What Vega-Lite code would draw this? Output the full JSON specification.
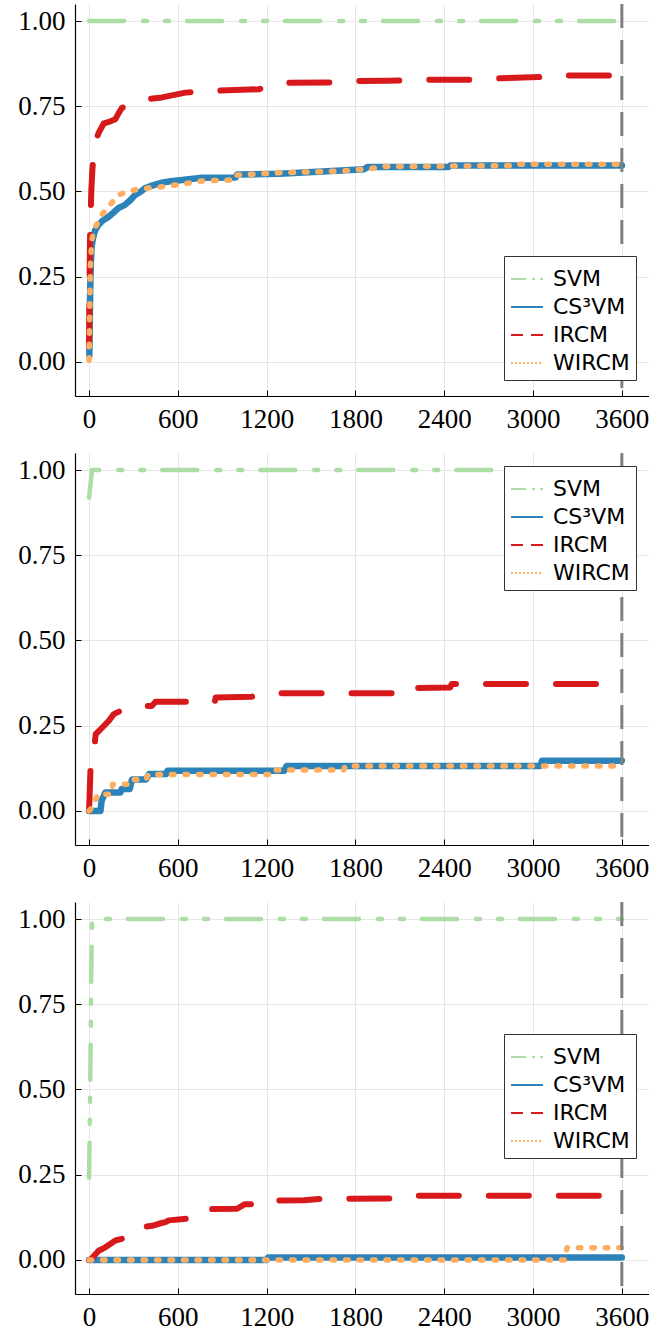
{
  "$schema": "https://vega.github.io/schema/vega-lite/v6.json",
  "padding": {"left": 17, "top": 2, "right": 0, "bottom": 0},
  "autosize": {"type": "pad"},
  "spacing": 57,
  "bounds": "flush",
  "background": "white",
  "config": {
    "view": {"stroke": null},
    "axis": {
      "labelFont": "Liberation Serif", "labelFontSize": 27, "labelColor": "black",
      "domainColor": "black", "domainWidth": 1.2, "tickColor": "black", "tickSize": -6, "tickWidth": 1,
      "gridColor": "#e6e6e6", "gridWidth": 1, "title": null, "labelFlush": false, "labelOverlap": false
    },
    "legend": {
      "orient": "none", "title": " ", "titleFontSize": 8, "titlePadding": 0, "labelFont": "DejaVu Sans", "labelFontSize": 22, "labelColor": "black",
      "symbolType": "stroke", "symbolSize": 1024, "labelOffset": 9, "rowPadding": 0,
      "padding": 6, "strokeColor": "#333333", "fillColor": "white", "labelLimit": 300,
      "symbolStrokeWidth": 2, "symbolOpacity": 1
    }
  },
  "datasets": {
    "p1": [
      {"method": "SVM", "t": 0, "v": 1.0}, {"method": "SVM", "t": 3600, "v": 1.0},
      {"method": "CS³VM", "t": 2, "v": 0.02}, {"method": "CS³VM", "t": 5, "v": 0.13}, {"method": "CS³VM", "t": 8, "v": 0.22}, {"method": "CS³VM", "t": 12, "v": 0.29}, {"method": "CS³VM", "t": 18, "v": 0.34}, {"method": "CS³VM", "t": 25, "v": 0.36}, {"method": "CS³VM", "t": 40, "v": 0.385}, {"method": "CS³VM", "t": 60, "v": 0.4}, {"method": "CS³VM", "t": 88, "v": 0.413}, {"method": "CS³VM", "t": 130, "v": 0.425}, {"method": "CS³VM", "t": 170, "v": 0.44}, {"method": "CS³VM", "t": 200, "v": 0.452}, {"method": "CS³VM", "t": 240, "v": 0.46}, {"method": "CS³VM", "t": 280, "v": 0.475}, {"method": "CS³VM", "t": 312, "v": 0.49}, {"method": "CS³VM", "t": 350, "v": 0.5}, {"method": "CS³VM", "t": 380, "v": 0.51}, {"method": "CS³VM", "t": 430, "v": 0.518}, {"method": "CS³VM", "t": 493, "v": 0.526}, {"method": "CS³VM", "t": 550, "v": 0.53}, {"method": "CS³VM", "t": 600, "v": 0.532}, {"method": "CS³VM", "t": 763, "v": 0.54}, {"method": "CS³VM", "t": 990, "v": 0.541}, {"method": "CS³VM", "t": 1000, "v": 0.55}, {"method": "CS³VM", "t": 1290, "v": 0.552}, {"method": "CS³VM", "t": 1860, "v": 0.565}, {"method": "CS³VM", "t": 1880, "v": 0.572}, {"method": "CS³VM", "t": 2430, "v": 0.572}, {"method": "CS³VM", "t": 2440, "v": 0.576}, {"method": "CS³VM", "t": 3600, "v": 0.576},
      {"method": "IRCM", "t": 0, "v": 0.05}, {"method": "IRCM", "t": 3, "v": 0.2}, {"method": "IRCM", "t": 6, "v": 0.35}, {"method": "IRCM", "t": 10, "v": 0.42}, {"method": "IRCM", "t": 15, "v": 0.5}, {"method": "IRCM", "t": 22, "v": 0.56}, {"method": "IRCM", "t": 30, "v": 0.61}, {"method": "IRCM", "t": 45, "v": 0.65}, {"method": "IRCM", "t": 65, "v": 0.672}, {"method": "IRCM", "t": 100, "v": 0.7}, {"method": "IRCM", "t": 140, "v": 0.705}, {"method": "IRCM", "t": 178, "v": 0.712}, {"method": "IRCM", "t": 200, "v": 0.73}, {"method": "IRCM", "t": 223, "v": 0.746}, {"method": "IRCM", "t": 260, "v": 0.747}, {"method": "IRCM", "t": 330, "v": 0.76}, {"method": "IRCM", "t": 380, "v": 0.77}, {"method": "IRCM", "t": 493, "v": 0.776}, {"method": "IRCM", "t": 651, "v": 0.79}, {"method": "IRCM", "t": 830, "v": 0.795}, {"method": "IRCM", "t": 1150, "v": 0.8}, {"method": "IRCM", "t": 1200, "v": 0.81}, {"method": "IRCM", "t": 1324, "v": 0.819}, {"method": "IRCM", "t": 1628, "v": 0.82}, {"method": "IRCM", "t": 1716, "v": 0.824}, {"method": "IRCM", "t": 2020, "v": 0.825}, {"method": "IRCM", "t": 2270, "v": 0.828}, {"method": "IRCM", "t": 2600, "v": 0.828}, {"method": "IRCM", "t": 2770, "v": 0.832}, {"method": "IRCM", "t": 3080, "v": 0.836}, {"method": "IRCM", "t": 3100, "v": 0.84}, {"method": "IRCM", "t": 3600, "v": 0.84},
      {"method": "WIRCM", "t": 0, "v": 0.005}, {"method": "WIRCM", "t": 3, "v": 0.1}, {"method": "WIRCM", "t": 6, "v": 0.2}, {"method": "WIRCM", "t": 10, "v": 0.3}, {"method": "WIRCM", "t": 20, "v": 0.36}, {"method": "WIRCM", "t": 31, "v": 0.385}, {"method": "WIRCM", "t": 60, "v": 0.41}, {"method": "WIRCM", "t": 88, "v": 0.433}, {"method": "WIRCM", "t": 150, "v": 0.465}, {"method": "WIRCM", "t": 200, "v": 0.49}, {"method": "WIRCM", "t": 250, "v": 0.498}, {"method": "WIRCM", "t": 312, "v": 0.505}, {"method": "WIRCM", "t": 400, "v": 0.51}, {"method": "WIRCM", "t": 538, "v": 0.516}, {"method": "WIRCM", "t": 650, "v": 0.523}, {"method": "WIRCM", "t": 763, "v": 0.531}, {"method": "WIRCM", "t": 990, "v": 0.534}, {"method": "WIRCM", "t": 1000, "v": 0.548}, {"method": "WIRCM", "t": 1290, "v": 0.555}, {"method": "WIRCM", "t": 1700, "v": 0.56}, {"method": "WIRCM", "t": 1900, "v": 0.567}, {"method": "WIRCM", "t": 2000, "v": 0.573}, {"method": "WIRCM", "t": 2880, "v": 0.576}, {"method": "WIRCM", "t": 2900, "v": 0.58}, {"method": "WIRCM", "t": 3600, "v": 0.58}
    ],
    "p2": [
      {"method": "SVM", "t": 0, "v": 0.919}, {"method": "SVM", "t": 10, "v": 0.96}, {"method": "SVM", "t": 20, "v": 1.0}, {"method": "SVM", "t": 3600, "v": 1.0},
      {"method": "CS³VM", "t": 0, "v": 0}, {"method": "CS³VM", "t": 77, "v": 0}, {"method": "CS³VM", "t": 85, "v": 0.03}, {"method": "CS³VM", "t": 110, "v": 0.054}, {"method": "CS³VM", "t": 212, "v": 0.054}, {"method": "CS³VM", "t": 220, "v": 0.064}, {"method": "CS³VM", "t": 275, "v": 0.064}, {"method": "CS³VM", "t": 290, "v": 0.092}, {"method": "CS³VM", "t": 385, "v": 0.092}, {"method": "CS³VM", "t": 405, "v": 0.108}, {"method": "CS³VM", "t": 520, "v": 0.108}, {"method": "CS³VM", "t": 530, "v": 0.118}, {"method": "CS³VM", "t": 1320, "v": 0.118}, {"method": "CS³VM", "t": 1335, "v": 0.132}, {"method": "CS³VM", "t": 3050, "v": 0.132}, {"method": "CS³VM", "t": 3060, "v": 0.147}, {"method": "CS³VM", "t": 3600, "v": 0.147},
      {"method": "IRCM", "t": 0, "v": 0}, {"method": "IRCM", "t": 5, "v": 0.06}, {"method": "IRCM", "t": 10, "v": 0.127}, {"method": "IRCM", "t": 20, "v": 0.15}, {"method": "IRCM", "t": 38, "v": 0.196}, {"method": "IRCM", "t": 45, "v": 0.225}, {"method": "IRCM", "t": 88, "v": 0.244}, {"method": "IRCM", "t": 133, "v": 0.264}, {"method": "IRCM", "t": 167, "v": 0.284}, {"method": "IRCM", "t": 220, "v": 0.295}, {"method": "IRCM", "t": 290, "v": 0.308}, {"method": "IRCM", "t": 425, "v": 0.308}, {"method": "IRCM", "t": 448, "v": 0.32}, {"method": "IRCM", "t": 850, "v": 0.32}, {"method": "IRCM", "t": 855, "v": 0.333}, {"method": "IRCM", "t": 1100, "v": 0.335}, {"method": "IRCM", "t": 1170, "v": 0.345}, {"method": "IRCM", "t": 2100, "v": 0.345}, {"method": "IRCM", "t": 2115, "v": 0.36}, {"method": "IRCM", "t": 2440, "v": 0.362}, {"method": "IRCM", "t": 2450, "v": 0.372}, {"method": "IRCM", "t": 3500, "v": 0.372}, {"method": "IRCM", "t": 3510, "v": 0.386}, {"method": "IRCM", "t": 3600, "v": 0.386},
      {"method": "WIRCM", "t": 0, "v": 0}, {"method": "WIRCM", "t": 20, "v": 0.01}, {"method": "WIRCM", "t": 40, "v": 0.03}, {"method": "WIRCM", "t": 60, "v": 0.049}, {"method": "WIRCM", "t": 150, "v": 0.049}, {"method": "WIRCM", "t": 160, "v": 0.078}, {"method": "WIRCM", "t": 290, "v": 0.078}, {"method": "WIRCM", "t": 300, "v": 0.092}, {"method": "WIRCM", "t": 385, "v": 0.092}, {"method": "WIRCM", "t": 400, "v": 0.107}, {"method": "WIRCM", "t": 1250, "v": 0.107}, {"method": "WIRCM", "t": 1260, "v": 0.12}, {"method": "WIRCM", "t": 1720, "v": 0.12}, {"method": "WIRCM", "t": 1730, "v": 0.132}, {"method": "WIRCM", "t": 3600, "v": 0.132}
    ],
    "p3": [
      {"method": "SVM", "t": 0, "v": 0.241}, {"method": "SVM", "t": 5, "v": 0.4}, {"method": "SVM", "t": 10, "v": 0.6}, {"method": "SVM", "t": 15, "v": 0.85}, {"method": "SVM", "t": 20, "v": 0.985}, {"method": "SVM", "t": 25, "v": 1.0}, {"method": "SVM", "t": 3600, "v": 1.0},
      {"method": "CS³VM", "t": 0, "v": 0}, {"method": "CS³VM", "t": 1200, "v": 0}, {"method": "CS³VM", "t": 1210, "v": 0.007}, {"method": "CS³VM", "t": 3600, "v": 0.007},
      {"method": "IRCM", "t": 0, "v": 0}, {"method": "IRCM", "t": 10, "v": 0}, {"method": "IRCM", "t": 40, "v": 0.015}, {"method": "IRCM", "t": 65, "v": 0.027}, {"method": "IRCM", "t": 110, "v": 0.037}, {"method": "IRCM", "t": 178, "v": 0.057}, {"method": "IRCM", "t": 250, "v": 0.065}, {"method": "IRCM", "t": 324, "v": 0.072}, {"method": "IRCM", "t": 358, "v": 0.096}, {"method": "IRCM", "t": 426, "v": 0.1}, {"method": "IRCM", "t": 471, "v": 0.106}, {"method": "IRCM", "t": 516, "v": 0.111}, {"method": "IRCM", "t": 538, "v": 0.116}, {"method": "IRCM", "t": 640, "v": 0.12}, {"method": "IRCM", "t": 763, "v": 0.124}, {"method": "IRCM", "t": 790, "v": 0.14}, {"method": "IRCM", "t": 831, "v": 0.149}, {"method": "IRCM", "t": 1000, "v": 0.15}, {"method": "IRCM", "t": 1050, "v": 0.163}, {"method": "IRCM", "t": 1200, "v": 0.165}, {"method": "IRCM", "t": 1215, "v": 0.174}, {"method": "IRCM", "t": 1450, "v": 0.175}, {"method": "IRCM", "t": 1570, "v": 0.179}, {"method": "IRCM", "t": 2050, "v": 0.18}, {"method": "IRCM", "t": 2100, "v": 0.188}, {"method": "IRCM", "t": 3500, "v": 0.188}, {"method": "IRCM", "t": 3530, "v": 0.195}, {"method": "IRCM", "t": 3600, "v": 0.195},
      {"method": "WIRCM", "t": 0, "v": 0}, {"method": "WIRCM", "t": 3215, "v": 0}, {"method": "WIRCM", "t": 3230, "v": 0.036}, {"method": "WIRCM", "t": 3600, "v": 0.036}
    ]
  },
  "vconcat": [
    {
      "width": 576, "height": 392,
      "encoding": {
        "x": {"field": "t", "type": "quantitative", "scale": {"domain": [-95, 3797], "nice": false, "zero": false}, "axis": {"values": [0, 600, 1200, 1800, 2400, 3000, 3600], "format": "d", "labelPadding": 16}},
        "y": {"field": "v", "type": "quantitative", "scale": {"domain": [-0.1, 1.05], "nice": false, "zero": false}, "axis": {"values": [0, 0.25, 0.5, 0.75, 1], "format": ".2f", "labelPadding": 16}}
      },
      "layer": [
        {"data": {"name": "p1"}, "transform": [{"filter": "false"}], "mark": {"type": "line", "strokeWidth": 2, "strokeCap": "butt"},
         "encoding": {
           "color": {"field": "method", "type": "nominal", "scale": {"domain": ["SVM", "CS³VM", "IRCM", "WIRCM"], "range": ["#abdda4", "#2b83ba", "#d7191c", "#fdae61"]}, "legend": {"legendX": 429, "legendY": 252}},
           "strokeDash": {"field": "method", "type": "nominal", "scale": {"domain": ["SVM", "CS³VM", "IRCM", "WIRCM"], "range": [[15, 6, 3, 5, 3, 5], [1, 0], [12, 8], [2, 2]]}}
         }},
        {"data": {"name": "p1"}, "transform": [{"filter": "datum.method == 'SVM'"}], "mark": {"type": "line", "color": "#abdda4", "strokeWidth": 4.5, "strokeCap": "round", "strokeJoin": "round", "strokeDash": [35, 19, 4, 18, 4, 18]}},
        {"data": {"name": "p1"}, "transform": [{"filter": "datum.method == 'CS³VM'"}], "mark": {"type": "line", "color": "#2b83ba", "strokeWidth": 6.5, "strokeCap": "round", "strokeJoin": "round"}},
        {"data": {"name": "p1"}, "transform": [{"filter": "datum.method == 'IRCM'"}], "mark": {"type": "line", "color": "#d7191c", "strokeWidth": 6, "strokeCap": "round", "strokeJoin": "round", "strokeDash": [40, 30]}},
        {"data": {"name": "p1"}, "transform": [{"filter": "datum.method == 'WIRCM'"}], "mark": {"type": "line", "color": "#fdae61", "strokeWidth": 5.5, "strokeCap": "round", "strokeJoin": "round", "strokeDash": [2.5, 11]}},
        {"data": {"values": [{"t": 3600}]}, "mark": {"type": "rule", "color": "#808080", "strokeWidth": 3, "strokeDash": [24, 12]}, "encoding": {"x": {"field": "t", "type": "quantitative"}, "y": null}}
      ]
    },
    {
      "width": 576, "height": 392,
      "encoding": {
        "x": {"field": "t", "type": "quantitative", "scale": {"domain": [-95, 3797], "nice": false, "zero": false}, "axis": {"values": [0, 600, 1200, 1800, 2400, 3000, 3600], "format": "d", "labelPadding": 16}},
        "y": {"field": "v", "type": "quantitative", "scale": {"domain": [-0.1, 1.05], "nice": false, "zero": false}, "axis": {"values": [0, 0.25, 0.5, 0.75, 1], "format": ".2f", "labelPadding": 16}}
      },
      "layer": [
        {"data": {"name": "p2"}, "transform": [{"filter": "false"}], "mark": {"type": "line", "strokeWidth": 2, "strokeCap": "butt"},
         "encoding": {
           "color": {"field": "method", "type": "nominal", "scale": {"domain": ["SVM", "CS³VM", "IRCM", "WIRCM"], "range": ["#abdda4", "#2b83ba", "#d7191c", "#fdae61"]}, "legend": {"legendX": 429, "legendY": 13}},
           "strokeDash": {"field": "method", "type": "nominal", "scale": {"domain": ["SVM", "CS³VM", "IRCM", "WIRCM"], "range": [[15, 6, 3, 5, 3, 5], [1, 0], [12, 8], [2, 2]]}}
         }},
        {"data": {"name": "p2"}, "transform": [{"filter": "datum.method == 'SVM'"}], "mark": {"type": "line", "color": "#abdda4", "strokeWidth": 4.5, "strokeCap": "round", "strokeJoin": "round", "strokeDash": [35, 19, 4, 18, 4, 18]}},
        {"data": {"name": "p2"}, "transform": [{"filter": "datum.method == 'CS³VM'"}], "mark": {"type": "line", "color": "#2b83ba", "strokeWidth": 6.5, "strokeCap": "round", "strokeJoin": "round"}},
        {"data": {"name": "p2"}, "transform": [{"filter": "datum.method == 'IRCM'"}], "mark": {"type": "line", "color": "#d7191c", "strokeWidth": 6, "strokeCap": "round", "strokeJoin": "round", "strokeDash": [40, 30]}},
        {"data": {"name": "p2"}, "transform": [{"filter": "datum.method == 'WIRCM'"}], "mark": {"type": "line", "color": "#fdae61", "strokeWidth": 5.5, "strokeCap": "round", "strokeJoin": "round", "strokeDash": [2.5, 11]}},
        {"data": {"values": [{"t": 3600}]}, "mark": {"type": "rule", "color": "#808080", "strokeWidth": 3, "strokeDash": [24, 12]}, "encoding": {"x": {"field": "t", "type": "quantitative"}, "y": null}}
      ]
    },
    {
      "width": 576, "height": 392,
      "encoding": {
        "x": {"field": "t", "type": "quantitative", "scale": {"domain": [-95, 3797], "nice": false, "zero": false}, "axis": {"values": [0, 600, 1200, 1800, 2400, 3000, 3600], "format": "d", "labelPadding": 16}},
        "y": {"field": "v", "type": "quantitative", "scale": {"domain": [-0.1, 1.05], "nice": false, "zero": false}, "axis": {"values": [0, 0.25, 0.5, 0.75, 1], "format": ".2f", "labelPadding": 16}}
      },
      "layer": [
        {"data": {"name": "p3"}, "transform": [{"filter": "false"}], "mark": {"type": "line", "strokeWidth": 2, "strokeCap": "butt"},
         "encoding": {
           "color": {"field": "method", "type": "nominal", "scale": {"domain": ["SVM", "CS³VM", "IRCM", "WIRCM"], "range": ["#abdda4", "#2b83ba", "#d7191c", "#fdae61"]}, "legend": {"legendX": 429, "legendY": 132}},
           "strokeDash": {"field": "method", "type": "nominal", "scale": {"domain": ["SVM", "CS³VM", "IRCM", "WIRCM"], "range": [[15, 6, 3, 5, 3, 5], [1, 0], [12, 8], [2, 2]]}}
         }},
        {"data": {"name": "p3"}, "transform": [{"filter": "datum.method == 'SVM'"}], "mark": {"type": "line", "color": "#abdda4", "strokeWidth": 4.5, "strokeCap": "round", "strokeJoin": "round", "strokeDash": [35, 19, 4, 18, 4, 18]}},
        {"data": {"name": "p3"}, "transform": [{"filter": "datum.method == 'CS³VM'"}], "mark": {"type": "line", "color": "#2b83ba", "strokeWidth": 6.5, "strokeCap": "round", "strokeJoin": "round"}},
        {"data": {"name": "p3"}, "transform": [{"filter": "datum.method == 'IRCM'"}], "mark": {"type": "line", "color": "#d7191c", "strokeWidth": 6, "strokeCap": "round", "strokeJoin": "round", "strokeDash": [40, 30]}},
        {"data": {"name": "p3"}, "transform": [{"filter": "datum.method == 'WIRCM'"}], "mark": {"type": "line", "color": "#fdae61", "strokeWidth": 5.5, "strokeCap": "round", "strokeJoin": "round", "strokeDash": [2.5, 11]}},
        {"data": {"values": [{"t": 3600}]}, "mark": {"type": "rule", "color": "#808080", "strokeWidth": 3, "strokeDash": [24, 12]}, "encoding": {"x": {"field": "t", "type": "quantitative"}, "y": null}}
      ]
    }
  ],
  "resolve": {"scale": {"color": "independent", "strokeDash": "independent"}, "legend": {"color": "independent", "strokeDash": "independent"}}
}
